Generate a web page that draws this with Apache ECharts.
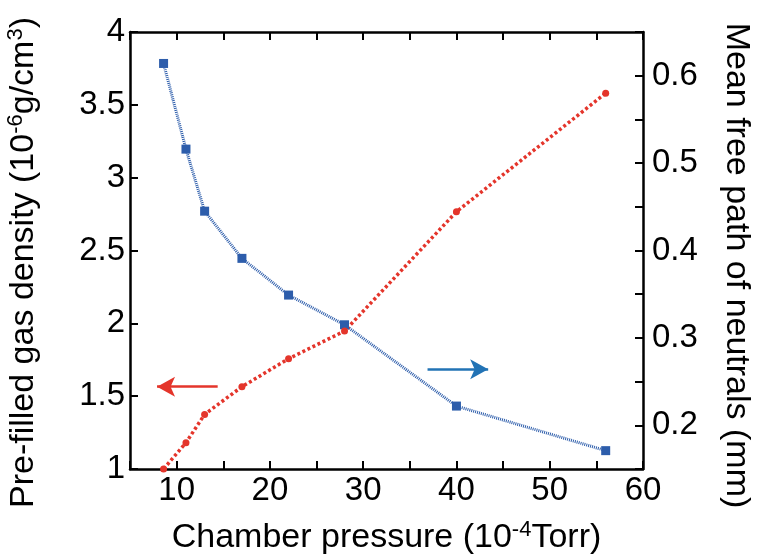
<!DOCTYPE html>
<html>
<head>
<meta charset="utf-8">
<script src="https://cdn.jsdelivr.net/npm/echarts@6/dist/echarts.min.js"></script>
<style>
  html, body { margin: 0; padding: 0; background: #fff; }
  #chart { width: 760px; height: 559px; }
</style>
</head>
<body>
<div id="chart"></div>
<script>
// Chamber pressure (10^-4 Torr)
const pressure = [8.6, 11, 13, 17, 22, 28, 40, 56];
// Pre-filled gas density (10^-6 g/cm^3), left axis
const density = [1.0, 1.18, 1.375, 1.565, 1.757, 1.947, 2.766, 3.58];
// Mean free path of neutrals (mm), right axis
const meanFreePath = [0.614, 0.516, 0.445, 0.391, 0.349, 0.315, 0.222, 0.171];

// Direction arrows: which axis each curve belongs to
const densityArrow = { from: [14.4, 1.565], to: [7.9, 1.565] };
const mfpArrow = { from: [36.9, 0.264], to: [43.4, 0.264] };

const FONT = 'Liberation Sans';
const RED = '#e4352b';
const BLUE = '#2d5dab';
const ARROW_BLUE = '#2273b5';
const TICK_SIZE = 33;
const TITLE_SIZE = 34;
const SUP_SIZE = 22;

const pairs = (xs, ys) => xs.map((x, i) => [x, ys[i]]);

const tickCommon = { inside: true, length: 8, lineStyle: { color: '#000', width: 2 } };
const lineCommon = { show: true, onZero: false, lineStyle: { color: '#000', width: 2.5 } };
const titleRich = {
  t: { fontFamily: FONT, fontSize: TITLE_SIZE, color: '#000' },
  s: { fontFamily: FONT, fontSize: SUP_SIZE, color: '#000', padding: [0, 0, 15, 0] }
};

const chart = echarts.init(document.getElementById('chart'));
chart.setOption({
  animation: false,
  backgroundColor: '#fff',
  grid: { left: 130, right: 117, top: 32, bottom: 90, outerBoundsMode: 'none', containLabel: false },
  xAxis: [
    {
      type: 'value', position: 'bottom', min: 5, max: 60, interval: 5,
      axisLine: lineCommon, axisTick: tickCommon, splitLine: { show: false },
      axisLabel: {
        color: '#000', fontFamily: FONT, fontSize: TICK_SIZE, margin: 5,
        formatter: v => (Math.round(v) % 10 === 0 ? String(Math.round(v)) : '')
      },
      name: '{t|Chamber pressure (10}{s|-4}{t|Torr)}',
      nameLocation: 'middle', nameGap: 50,
      nameTextStyle: { rich: titleRich }
    },
    {
      type: 'value', position: 'top', min: 5, max: 60, interval: 5,
      axisLine: lineCommon, axisTick: tickCommon, splitLine: { show: false },
      axisLabel: { show: false }
    }
  ],
  yAxis: [
    {
      type: 'value', position: 'left', min: 1, max: 4, interval: 0.5,
      axisLine: lineCommon, axisTick: tickCommon, splitLine: { show: false },
      axisLabel: { color: '#000', fontFamily: FONT, fontSize: TICK_SIZE, margin: 5 },
      name: '{t|Pre-filled gas density (10}{s|-6}{t|g/cm}{s|3}{t|)}',
      nameLocation: 'middle', nameGap: 88, nameRotate: 90,
      nameTextStyle: { rich: titleRich, padding: [0, 24, 0, 0] }
    },
    {
      type: 'value', position: 'right', min: 0.15, max: 0.65, interval: 0.05,
      axisLine: lineCommon, axisTick: tickCommon, splitLine: { show: false },
      axisLabel: {
        color: '#000', fontFamily: FONT, fontSize: TICK_SIZE, margin: 9,
        formatter: v => (Math.abs(v * 10 - Math.round(v * 10)) < 1e-6 ? v.toFixed(1) : '')
      },
      name: 'Mean free path of neutrals (mm)',
      nameLocation: 'middle', nameGap: 76, nameRotate: -90,
      nameTextStyle: { fontFamily: FONT, fontSize: TITLE_SIZE, color: '#000', padding: [0, 0, 0, 30] }
    }
  ],
  series: [
    {
      name: 'Mean free path',
      type: 'line', xAxisIndex: 0, yAxisIndex: 1,
      data: pairs(pressure, meanFreePath),
      symbol: 'rect', symbolSize: 9,
      itemStyle: { color: BLUE },
      lineStyle: { color: BLUE, width: 3, type: [1, 1] },
      markLine: {
        silent: true, animation: false,
        symbol: ['none', 'arrow'], symbolSize: [15, 18],
        label: { show: false },
        lineStyle: { color: ARROW_BLUE, width: 2.5, type: 'solid' },
        data: [[{ coord: mfpArrow.from }, { coord: mfpArrow.to }]]
      }
    },
    {
      name: 'Gas density',
      type: 'line', xAxisIndex: 0, yAxisIndex: 0,
      data: pairs(pressure, density),
      symbol: 'circle', symbolSize: 7,
      itemStyle: { color: RED },
      lineStyle: { color: RED, width: 3.5, type: [3, 2.6] },
      markLine: {
        silent: true, animation: false,
        symbol: ['none', 'arrow'], symbolSize: [15, 18],
        label: { show: false },
        lineStyle: { color: RED, width: 2.5, type: 'solid' },
        data: [[{ coord: densityArrow.from }, { coord: densityArrow.to }]]
      }
    }
  ]
});
</script>
</body>
</html>
